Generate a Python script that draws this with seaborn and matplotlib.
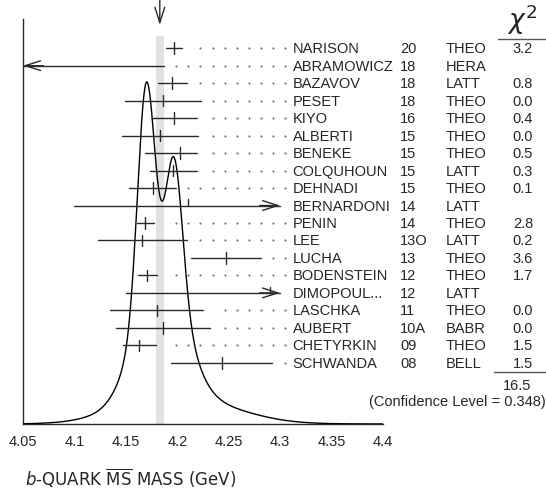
import numpy as np
import matplotlib
matplotlib.use('Agg')
from matplotlib import pyplot as plt
from matplotlib.lines import Line2D
import matplotlib.transforms as mtransforms
import seaborn as sns

# 数据
names = ['NARISON', 'ABRAMOWICZ', 'BAZAVOV', 'PESET', 'KIYO', 'ALBERTI', 'BENEKE',
         'COLQUHOUN', 'DEHNADI', 'BERNARDONI', 'PENIN', 'LEE', 'LUCHA', 'BODENSTEIN',
         'DIMOPOUL...', 'LASCHKA', 'AUBERT', 'CHETYRKIN', 'SCHWANDA']
years = ['20', '18', '18', '18', '16', '15', '15', '15', '15', '14', '14', '13O', '13',
         '12', '12', '11', '10A', '09', '08']
techs = ['THEO', 'HERA', 'LATT', 'THEO', 'THEO', 'THEO', 'THEO', 'LATT', 'THEO', 'LATT',
         'THEO', 'LATT', 'THEO', 'THEO', 'LATT', 'THEO', 'BABR', 'THEO', 'BELL']
values = [4.197, 4.049, 4.195, 4.186, 4.197, 4.183, 4.203, 4.196, 4.176, 4.21, 4.169,
          4.166, 4.247, 4.171, 4.29, 4.18, 4.186, 4.163, 4.243]
err_lo = [0.008, 0.118, 0.014, 0.037, 0.022, 0.037, 0.034, 0.023, 0.023, 0.11, 0.008,
          0.043, 0.034, 0.009, 0.14, 0.045, 0.046, 0.016, 0.049]
err_hi = [0.008, 0.138, 0.014, 0.037, 0.022, 0.037, 0.016, 0.023, 0.023, 0.11, 0.008,
          0.043, 0.034, 0.009, 0.14, 0.045, 0.046, 0.016, 0.049]
chi2 = ['3.2', '', '0.8', '0.0', '0.4', '0.0', '0.5', '0.3', '0.1', '', '2.8', '0.2',
        '3.6', '1.7', '', '0.0', '0.0', '1.5', '1.5']
chi2_total = '16.5'
conf_level = '0.348'
avg_value = 4.183
avg_error = 0.004

xticks = [4.05, 4.1, 4.15, 4.2, 4.25, 4.3, 4.35, 4.4]
xticklabels = ['4.05', '4.1', '4.15', '4.2', '4.25', '4.3', '4.35', '4.4']

# 显示范围
XMIN, XMAX = 4.05, 4.4
BAR_MAX = 4.30
n = len(names)
row_y = [21.5 - i for i in range(n)]

sns.set_style('white')
plt.rcParams['font.family'] = ['Liberation Sans', 'DejaVu Sans']
FS = 10.5
LINE = '#2a2a2a'
ARROW = '->,head_length=1.1,head_width=0.35'

fig = plt.figure(figsize=(5.46, 4.89), dpi=100)
ax = fig.add_axes([23 / 546, 64 / 489, 360 / 546, 405 / 489])
ax.set_xlim(XMIN, XMAX)
ax.set_ylim(0, 23.17)

# 灰色平均值带
ax.fill_between([avg_value - avg_error, avg_value + avg_error], 0, 22.2,
                color='#e2e2e2', lw=0, zorder=0)

# 表意图曲线 (ideogram): 用于拟合的测量，每个测量一个高斯，面积 ∝ 1/sigma
xg = np.linspace(XMIN, XMAX, 1200)
curve = np.zeros_like(xg)
for v, lo, hi, c in zip(values, err_lo, err_hi, chi2):
    if c == '':
        continue
    s_mean = (lo + hi) / 2
    sig = np.where(xg < v, lo, hi)
    curve += np.exp(-0.5 * ((xg - v) / sig) ** 2) / s_mean ** 2
curve = curve / curve.max() * 19.57
sns.lineplot(x=xg, y=curve, color='black', lw=1.0, ax=ax, zorder=3)

# 误差棒、中心刻度、箭头、点线
dot_x, dot_y = [], []
grid = [4.3052 - 0.01182 * k for k in range(12)]
for y, v, lo, hi in zip(row_y, values, err_lo, err_hi):
    left = max(v - lo, XMIN)
    right = min(v + hi, BAR_MAX)
    ax.plot([left, right], [y, y], color=LINE, lw=1.0, zorder=4)
    clipped = (v - lo < XMIN) or (v + hi > BAR_MAX)
    if XMIN <= v <= BAR_MAX:
        if clipped:
            ax.plot([v, v], [y, y + 0.35], color=LINE, lw=1.0, zorder=4)
        else:
            ax.plot([v, v], [y - 0.33, y + 0.33], color=LINE, lw=1.0, zorder=4)
    if v - lo < XMIN:
        ax.annotate('', xy=(XMIN, y), xytext=(XMIN + 0.02, y),
                    arrowprops=dict(arrowstyle=ARROW, color=LINE, lw=1.0, shrinkA=0,
                                    shrinkB=0, mutation_scale=10), annotation_clip=False)
    if v + hi > BAR_MAX:
        ax.annotate('', xy=(BAR_MAX, y), xytext=(BAR_MAX - 0.02, y),
                    arrowprops=dict(arrowstyle=ARROW, color=LINE, lw=1.0, shrinkA=0,
                                    shrinkB=0, mutation_scale=10), annotation_clip=False)
    else:
        for gx in grid:
            if gx >= right + 0.011:
                dot_x.append(gx)
                dot_y.append(y)
sns.scatterplot(x=dot_x, y=dot_y, s=2.5, color='#777777', linewidth=0, ax=ax,
                zorder=2, clip_on=False)

# 顶部箭头指向平均值
ax.annotate('', xy=(avg_value, 22.83), xytext=(avg_value, 24.4),
            arrowprops=dict(arrowstyle=ARROW, color=LINE, lw=1.0, shrinkA=0,
                            shrinkB=0, mutation_scale=10), annotation_clip=False)

# 右侧表格文字
trans = mtransforms.blended_transform_factory(ax.transAxes, ax.transData)
for y, nm, yr, tc, c in zip(row_y, names, years, techs, chi2):
    ax.text((292.5 - 23) / 360, y, nm, transform=trans, fontsize=FS, va='center', ha='left')
    ax.text((400 - 23) / 360, y, yr, transform=trans, fontsize=FS, va='center', ha='left')
    ax.text((446 - 23) / 360, y, tc, transform=trans, fontsize=FS, va='center', ha='left')
    if c:
        ax.text((533 - 23) / 360, y, c, transform=trans, fontsize=FS, va='center', ha='right')

fig.text(522 / 546, 1 - 20 / 489, r'$\chi^2$', fontsize=19, ha='center', va='center')
fig.add_artist(Line2D([498 / 546, 1.0], [1 - 40 / 489] * 2, color='#555555', lw=1.0))
fig.add_artist(Line2D([494 / 546, 1.0], [1 - 373 / 489] * 2, color='#555555', lw=1.0))
fig.text(531.5 / 546, 1 - 386 / 489, chi2_total, fontsize=FS, ha='right', va='center')
fig.text(546 / 546, 1 - 402 / 489, '(Confidence Level = ' + conf_level + ')',
         fontsize=FS, ha='right', va='center')

# 坐标轴
sns.despine(ax=ax, top=True, right=True)
for sp in ['left', 'bottom']:
    ax.spines[sp].set_color(LINE)
    ax.spines[sp].set_linewidth(1.0)
ax.set_yticks([])
ax.set_xticks(xticks)
ax.set_xticklabels(xticklabels, fontsize=FS)
ax.tick_params(axis='x', direction='in', length=7.5, width=1.0, color=LINE, pad=7.5)
fig.text(25 / 546, 1 - 478 / 489, r'$b$-QUARK $\overline{\rm MS}$ MASS (GeV)',
         fontsize=12, family='DejaVu Sans', ha='left', va='center')

fig.savefig('out.png', dpi=100)
